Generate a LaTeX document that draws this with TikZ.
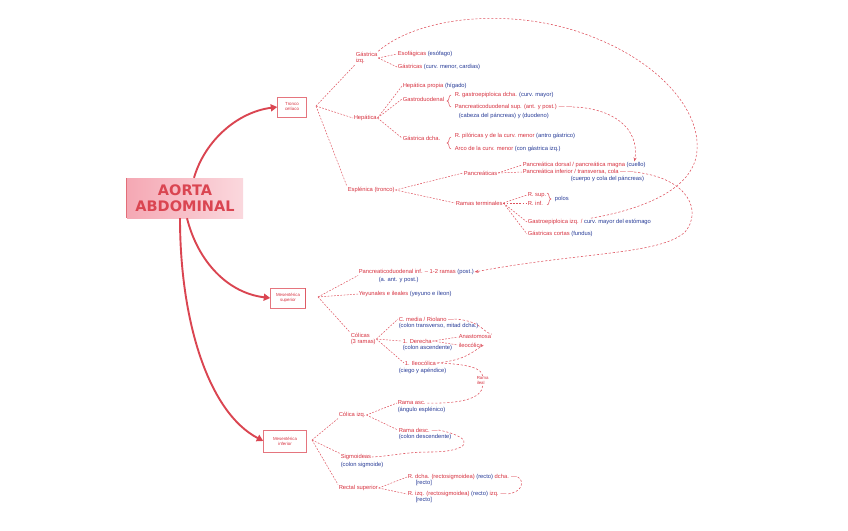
\documentclass[tikz,border=0pt]{standalone}
\usepackage{fontspec}
\setmainfont{Liberation Sans}
\newfontfamily\titulo{DejaVu Sans}
\usepackage{xcolor}
\usetikzlibrary{arrows.meta, positioning}
\definecolor{rojo}{RGB}{214,48,62}
\definecolor{azul}{RGB}{38,58,150}
\definecolor{rosa}{RGB}{245,168,180}
\definecolor{traza}{RGB}{222,82,94}
\newcommand{\az}[1]{\textcolor{azul}{#1}}

\begin{document}
\begin{tikzpicture}[x=1pt, y=-1pt, every node/.style={inner sep=0.6pt}]
\useasboundingbox (0,0) rectangle (848,530);

    % --- 1. Estilos ---
    \tikzset{
      rama/.style={text=rojo, font=\fontsize{5.8}{6.4}\selectfont, anchor=west, align=left},
      nota/.style={text=azul, font=\fontsize{5.8}{6.4}\selectfont, anchor=west},
      caja/.style={draw=traza!80, line width=0.5pt, text=rojo, font=\fontsize{4.4}{5}\selectfont, align=center, minimum height=20pt, inner sep=1.5pt},
      hilo/.style={traza, line width=0.5pt, dash pattern=on 1.8pt off 1.4pt},
      enlace/.style={traza, line width=0.55pt, dash pattern=on 2.2pt off 1.8pt},
      flecha/.style={rojo!90, line width=1.9pt, -{Triangle[length=6.5pt,width=7pt]}},
      llave/.pic={\draw[traza, line width=0.5pt] (3,-6) .. controls (0,-6) and (2,0) .. (-1,0) .. controls (2,0) and (0,6) .. (3,6);}
    }

    % --- 2. Nodo central ---
    \node[minimum width=116pt, minimum height=40pt, left color=rosa, right color=rosa!45, text=rojo!90,
          font=\titulo\bfseries\fontsize{14.5}{15.5}\selectfont, align=center] (aorta) at (185,198) {AORTA\\ABDOMINAL};
    \draw[rojo!70, line width=1.2pt] (aorta.north west) -- (aorta.south west);

    % --- 3. Ramas principales (cajas) ---
    \node[caja, minimum width=29pt] (celiaco) at (292,107) {Tronco\\celíaco};
    \node[caja, minimum width=35pt] (supmes) at (288,298) {Mesentérica\\superior};
    \node[caja, minimum width=43pt, minimum height=22pt] (infmes) at (285,441) {Mesentérica\\inferior};
    \draw[rojo!80, line width=1.1pt] (supmes.north east) -- (supmes.south east);

    \draw[flecha] ([xshift=9pt]aorta.north) .. controls (205,140) and (238,112) .. (celiaco.west);
    \draw[flecha] ([xshift=2pt]aorta.south) .. controls (198,262) and (228,293) .. (supmes.west);
    \draw[flecha] ([xshift=-5pt]aorta.south) .. controls (180,320) and (208,412) .. (infmes.west);

    % --- 4. Tronco celiaco ---
    \coordinate (f1) at (316,106);
    \node[rama] (gizq) at (355,58) {Gástrica\\izq.};
    \node[rama] (esof) at (397,54) {Esofágicas \az{(esófago)}};
    \node[rama] (gcur) at (397,67) {Gástricas \az{(curv. menor, cardias)}};
    \draw[hilo] (f1) -- (gizq.south west);
    \draw[hilo] (gizq.east) -- (esof.west);
    \draw[hilo] (gizq.east) -- (gcur.west);

    \node[rama] (hep) at (353,118) {Hepática};
    \node[rama] (hprop) at (402,86) {Hepática propia \az{(hígado)}};
    \node[rama] (gduo) at (402,99) {Gastroduodenal};
    \node[rama] (gder) at (402,138) {Gástrica dcha.};
    \draw[hilo] (f1) -- (hep.west);
    \draw[hilo] (hep.east) -- (hprop.west);
    \draw[hilo] (hep.east) -- (gduo.west);
    \draw[hilo] (hep.east) -- (gder.west);

    \pic at (448,101) {llave};
    \node[rama] (rgep) at (454,95) {R. gastroepiploica dcha. \az{(curv. mayor)}};
    \node[rama] (psup) at (454,107) {Pancreaticoduodenal sup. (ant. y post.) — —};
    \node[nota] (psupn) at (458,116) {(cabeza del páncreas) y (duodeno)};

    \pic at (448,143) {llave};
    \node[rama] (gd1) at (454,136) {R. pilóricas y de la curv. menor \az{(antro gástrico)}};
    \node[rama] (gd2) at (454,149) {Arco de la curv. menor \az{(con gástrica izq.)}};

    \node[rama] (espl) at (347,190) {Esplénica (tronco)};
    \node[rama] (panc) at (463,173) {Pancreáticas};
    \node[rama] (term) at (455,203) {Ramas terminales};
    \draw[hilo] (f1) -- (espl.north west);
    \draw[hilo] (espl.east) -- (panc.west);
    \draw[hilo] (espl.east) -- (term.west);

    \node[rama] (pdor) at (522,165) {Pancreática dorsal / pancreática magna \az{(cuello)}};
    \node[rama] (pinf) at (522,172) {Pancreática inferior / transversa, cola — —};
    \node[nota] (pinfn) at (570,179) {(cuerpo y cola del páncreas)};
    \draw[hilo] (panc.east) -- (pdor.west);
    \draw[hilo] (panc.east) -- (pinf.west);

    \node[rama] (rsupb) at (527,195) {R. sup.};
    \node[rama] (rinfb) at (527,203) {R. inf.};
    \pic[xscale=-1] at (550,199) {llave};
    \node[nota] (polos) at (554,199) {polos};
    \node[rama] (gepi) at (527,222) {Gastroepiploica izq. / \az{curv. mayor del estómago}};
    \node[rama] (gcor) at (527,234) {Gástricas cortas \az{(fundus)}};
    \draw[hilo] (term.east) -- (rsupb.west);
    \draw[hilo] (term.east) -- (rinfb.west);
    \draw[hilo] (term.east) -- (gepi.west);
    \draw[hilo] (term.east) -- (gcor.west);

    % --- 5. Mesenterica superior ---
    \coordinate (f2) at (318,297);
    \node[rama] (pdi) at (358,272) {Pancreaticoduodenal inf. – 1-2 ramas \az{(post.)}};
    \node[nota] (pdin) at (378,280) {(a. ant. y post.)};
    \node[rama] (yey) at (358,294) {Yeyunales e ileales \az{(yeyuno e íleon)}};
    \node[rama] (col) at (350,339) {Cólicas\\(3 ramas)};
    \draw[hilo] (f2) -- (pdi.south west);
    \draw[hilo] (f2) -- (yey.west);
    \draw[hilo] (f2) -- (col.north west);

    \node[rama] (cmed) at (398,319) {C. media / Riolano —};
    \node[nota] (cmedn) at (398,326) {(colon transverso, mitad dcha.)};
    \node[rama] (cder) at (402,341) {1. Derecha};
    \node[nota] (cdern) at (402,348) {(colon ascendente)};
    \node[rama] (cil) at (404,363) {1. Ileocólica};
    \node[nota] (ciln) at (398,371) {(ciego y apéndice)};
    \draw[hilo] (col.east) -- (cmed.west);
    \draw[hilo] (col.east) -- (cder.west);
    \draw[hilo] (col.east) -- (cil.west);

    \node[rama] (anas) at (458,337) {Anastomosa};
    \node[rama] (ileo) at (458,345) {ileocólica};
    \draw[hilo] (cder.east) -- (anas.west);
    \draw[hilo] (cder.east) -- (ileo.west);
    \node[rama, font=\fontsize{4.4}{5}\selectfont] (ileal) at (476,381) {Rama\\ileal};

    % --- 6. Mesenterica inferior ---
    \coordinate (f3) at (312,440);
    \node[rama] (cizq) at (338,415) {Cólica izq.};
    \node[rama] (asc) at (397,403) {Rama asc.};
    \node[nota] (ascn) at (397,410) {(ángulo esplénico)};
    \node[rama] (desc) at (398,430) {Rama desc. —};
    \node[nota] (descn) at (398,437) {(colon descendente)};
    \draw[hilo] (f3) -- (cizq.south west);
    \draw[hilo] (cizq.east) -- (asc.west);
    \draw[hilo] (cizq.east) -- (desc.west);

    \node[rama] (sig) at (340,457) {Sigmoideas};
    \node[nota] (sign) at (340,465) {(colon sigmoide)};
    \draw[hilo] (f3) -- (sig.north west);

    \node[rama] (rsup) at (338,488) {Rectal superior};
    \node[rama] (rs1) at (407,477) {R. dcha. (rectosigmoidea) \az{(recto)} dcha. —};
    \node[nota] (rs1n) at (415,483) {[recto]};
    \node[rama] (rs2) at (407,494) {R. izq. (rectosigmoidea) \az{(recto)} izq. —};
    \node[nota] (rs2n) at (415,500) {[recto]};
    \draw[hilo] (f3) -- (rsup.north west);
    \draw[hilo] (rsup.east) -- (rs1.west);
    \draw[hilo] (rsup.east) -- (rs2.west);

    % --- 7. Anastomosis (enlaces curvos) ---
    \draw[enlace] (gizq.north east) .. controls (420,15) and (520,5) .. (600,40)
                  .. controls (660,65) and (700,110) .. (697,150)
                  .. controls (695,190) and (640,210) .. (gepi.north);
    \draw[enlace, -{Stealth[length=4pt]}] (pinf.east) .. controls (690,178) and (702,212) .. (685,232)
                  .. controls (660,255) and (580,252) .. (pdi.east);
    \draw[enlace, -{Stealth[length=4pt]}] (psup.east) .. controls (612,108) and (640,128) .. ([xshift=-12pt]pdor.north east);
    \draw[enlace] (cmed.east) .. controls (482,321) and (482,332) .. (anas.north east);
    \draw[enlace] (ileo.east) .. controls (472,352) and (466,360) .. (cil.east);
    \draw[enlace] (cil.east) .. controls (468,364) and (482,368) .. (ileal.north);
    \draw[enlace] (ileal.south) .. controls (482,398) and (462,404) .. (asc.east);
    \draw[enlace] (desc.east) .. controls (478,438) and (470,452) .. (430,452)
                  .. controls (405,452) and (392,456) .. (sig.east);
    \draw[enlace] (rs1.east) .. controls (524,480) and (524,492) .. (rs2.east);

\end{tikzpicture}
\end{document}
